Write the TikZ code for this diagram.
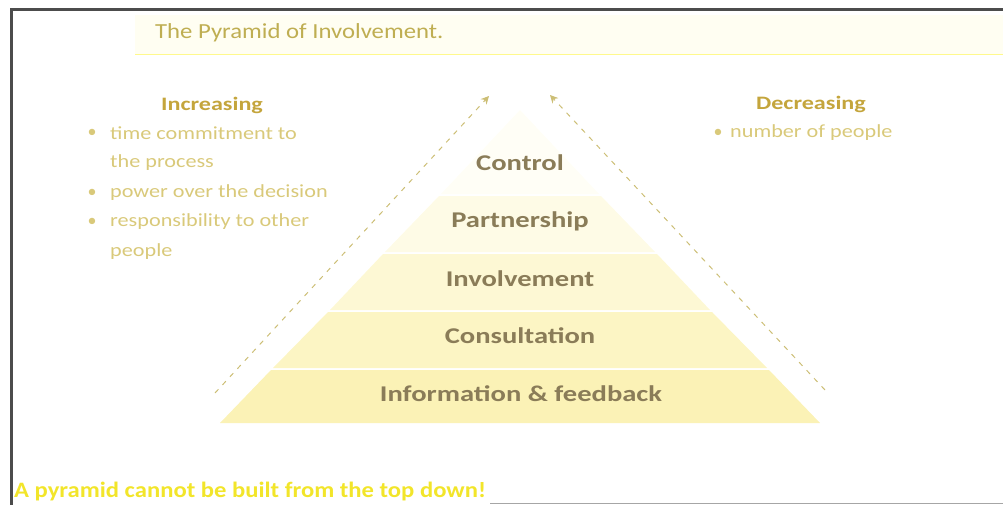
\documentclass[tikz,border=0pt]{standalone}
\usepackage{fontspec}
\setmainfont{Carlito}
\usetikzlibrary{arrows.meta}

\definecolor{olive}{HTML}{BFAE52}
\definecolor{gold}{HTML}{C4A53C}
\definecolor{pale}{HTML}{D9C97A}
\definecolor{brownish}{HTML}{8A7C58}
\definecolor{brightyel}{HTML}{F2E52A}
\definecolor{layerA}{HTML}{FBF2B6}
\definecolor{layerB}{HTML}{FCF5C4}
\definecolor{layerC}{HTML}{FDF8D4}
\definecolor{layerD}{HTML}{FEFBE6}
\definecolor{layerE}{HTML}{FFFEF6}

% wide lettering
\newcommand{\wide}[2]{\scalebox{#1}[1]{#2}}

\tikzset{
  level/.style={font=\fontsize{22.5}{24}\selectfont\bfseries, text=brownish},
  head/.style={font=\fontsize{19}{21}\selectfont\bfseries, text=gold},
  item/.style={font=\fontsize{18.5}{20}\selectfont, text=pale, anchor=west, inner sep=0pt},
  dot/.style={font=\fontsize{18}{20}\selectfont, text=pale, inner sep=0pt},
  side/.style={draw=olive!80, line width=1pt, dash pattern=on 5pt off 6pt, -{Stealth[length=8pt,width=8pt]}}
}

\begin{document}
\begin{tikzpicture}[x=1pt,y=-1pt]
  \useasboundingbox (0,0) rectangle (1003,505);

  % frame
  \draw[line width=3pt, black!70] (11,505) -- (11,10) -- (1003,10);
  \draw[line width=1pt, black!35] (490,503) -- (1003,503);

  % title band
  \fill[yellow!5] (135,15) rectangle (1003,55);
  \draw[line width=1pt, yellow!45] (135,55) -- (1003,55);
  \node[anchor=west, inner sep=0pt, font=\fontsize{21.5}{23}\selectfont, text=olive] (title) at (155,33) {\wide{1.15}{The Pyramid of Involvement.}};

  % pyramid layers, base to top
  \fill[layerA] (220,423) -- (820,423) -- (769,370) -- (271,370) -- cycle;
  \fill[layerB] (273,368) -- (767,368) -- (712,312) -- (328,312) -- cycle;
  \fill[layerC] (330,310) -- (710,310) -- (657,254) -- (383,254) -- cycle;
  \fill[layerD] (385,252) -- (655,252) -- (601,196) -- (439,196) -- cycle;
  \fill[layerE] (441,194) -- (599,194) -- (520,110) -- cycle;

  \node[level] (control) at (520,163) {\wide{1.27}{Control}};
  \node[level] (partner) at (520,221) {\wide{1.27}{Partnership}};
  \node[level] (involve) at (520,279) {\wide{1.27}{Involvement}};
  \node[level] (consult) at (520,336) {\wide{1.27}{Consultation}};
  \node[level] (inform)  at (521,394) {\wide{1.27}{Information \& feedback}};

  % dashed sides with arrows
  \coordinate (lfoot) at (215,393);
  \coordinate (ltip) at (489,96);
  \coordinate (rfoot) at (825,390);
  \coordinate (rtip) at (550,95);
  \draw[side] (lfoot) -- (ltip);
  \draw[side] (rfoot) -- (rtip);

  % left list
  \node[head] (inc) at (212,105) {\wide{1.27}{Increasing}};
  \node[dot] (d1) at (92,133) {•};
  \node[item] (i1) at (110,133) {\wide{1.2}{time commitment to}};
  \node[item] (i1b) at (110,163) {\wide{1.2}{the process}};
  \node[dot] (d2) at (92,193) {•};
  \node[item] (i2) at (110,193) {\wide{1.2}{power over the decision}};
  \node[dot] (d3) at (92,222) {•};
  \node[item] (i3) at (110,222) {\wide{1.2}{responsibility to other}};
  \node[item] (i3b) at (110,252) {\wide{1.2}{people}};

  % right list
  \node[head] (dec) at (811,104) {\wide{1.27}{Decreasing}};
  \node[dot] (d4) at (718,133) {•};
  \node[item] (i4) at (730,133) {\wide{1.2}{number of people}};

  % footer
  \node[anchor=west, inner sep=0pt, font=\fontsize{22}{23}\selectfont\bfseries, text=brightyel] (foot) at (14,492) {\wide{1.12}{A pyramid cannot be built from the top down!}};
\end{tikzpicture}
\end{document}
